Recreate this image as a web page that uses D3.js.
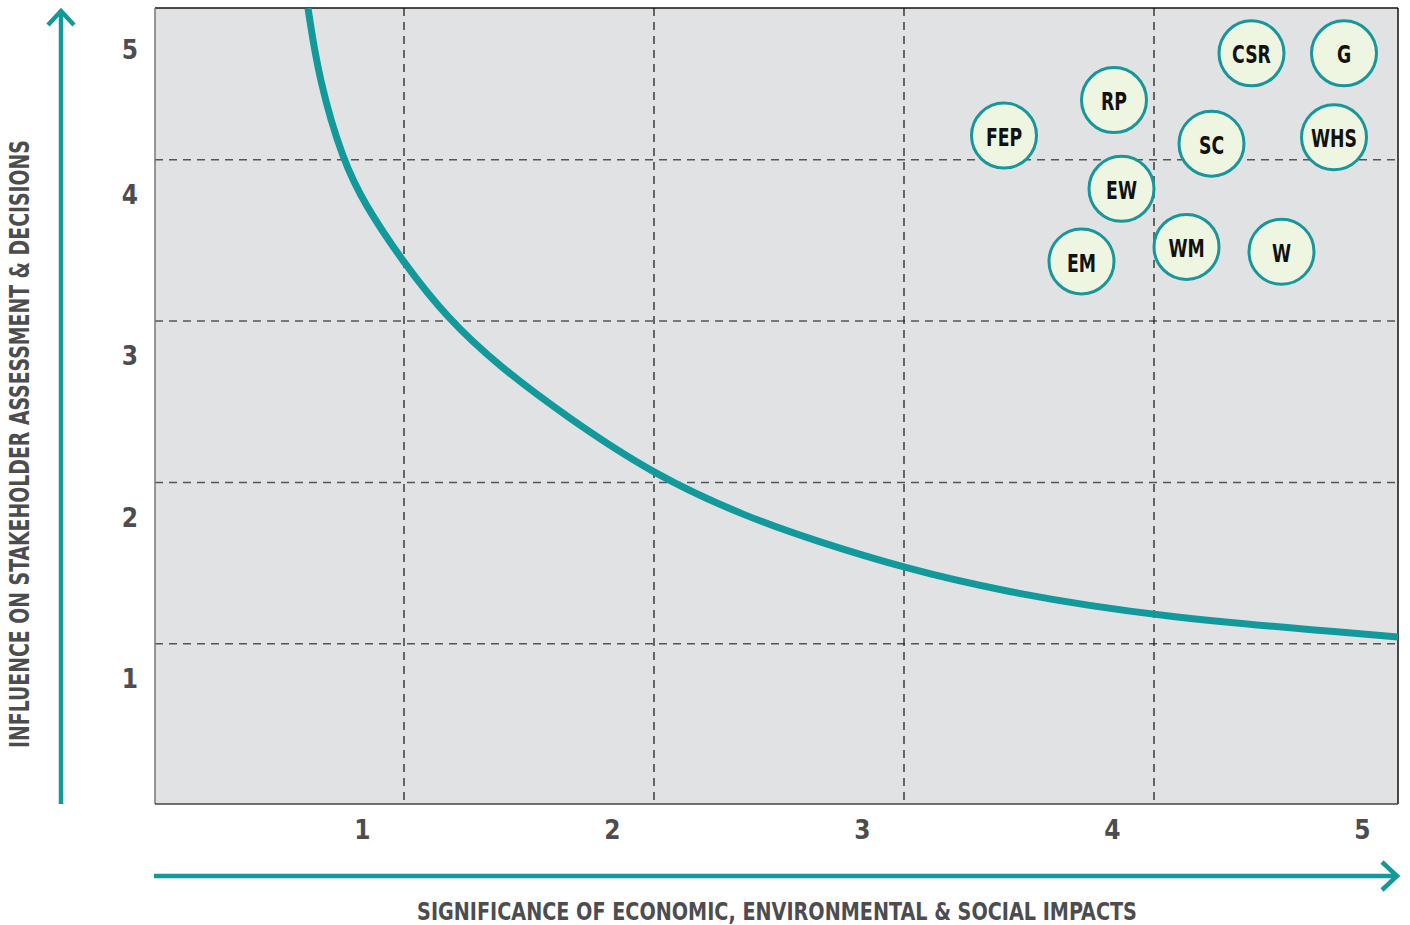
<!DOCTYPE html>
<html>
<head>
<meta charset="utf-8">
<script src="https://cdn.jsdelivr.net/npm/d3@7"></script>
<style>
  body { margin: 0; background: #fff; }
  svg text { font-family: "Liberation Sans Narrow", "DejaVu Sans Condensed", "Roboto", sans-serif; font-weight: bold; }
</style>
</head>
<body>
<div id="chart"></div>
<script>
// materiality matrix values
var xTicks = [1, 2, 3, 4, 5];
var yTicks = [1, 2, 3, 4, 5];
var gridX = [1, 2, 3, 4];
var gridY = [1, 2, 3, 4];

var topicLabels = ["CSR", "G", "RP", "FEP", "SC", "WHS", "EW", "WM", "W", "EM"];
var topicSignificance = [4.39, 4.76, 3.84, 3.40, 4.23, 4.72, 3.87, 4.13, 4.51, 3.71];
var topicInfluence = [4.66, 4.66, 4.37, 4.15, 4.10, 4.14, 3.82, 3.46, 3.43, 3.37];

// threshold curve
var curveX = [0.616, 0.66, 0.756, 0.844, 0.996, 1.172, 1.384, 1.652, 2.0, 2.372, 2.636, 3.0, 3.384, 4.0, 4.976];
var curveY = [4.94, 4.495, 3.993, 3.72, 3.366, 3.019, 2.715, 2.405, 2.046, 1.785, 1.643, 1.469, 1.327, 1.166, 1.042];

var xTitle = "SIGNIFICANCE OF ECONOMIC, ENVIRONMENTAL & SOCIAL IMPACTS";
var yTitle = "INFLUENCE ON STAKEHOLDER ASSESSMENT & DECISIONS";

var W = 1410, H = 925;
var plot = {left: 155, top: 8, right: 1398, bottom: 804};
var teal = "#12999b";

var x = d3.scaleLinear().domain([0, 5]).range([154, 1404]);
var y = d3.scaleLinear().domain([0, 5]).range([805, -1.5]);

var svg = d3.select("#chart").append("svg")
    .attr("width", W)
    .attr("height", H);

svg.append("defs").append("clipPath").attr("id", "plotclip")
  .append("rect")
    .attr("x", plot.left).attr("y", plot.top)
    .attr("width", plot.right - plot.left).attr("height", plot.bottom - plot.top);

svg.append("rect")
    .attr("x", plot.left).attr("y", plot.top)
    .attr("width", plot.right - plot.left).attr("height", plot.bottom - plot.top)
    .attr("fill", "#e1e2e4");

// dashed grid
svg.append("g").selectAll("line")
    .data(gridY)
  .enter().append("line")
    .attr("x1", plot.left).attr("x2", plot.right)
    .attr("y1", function(d) { return y(d); })
    .attr("y2", function(d) { return y(d); })
    .attr("stroke", "#555")
    .attr("stroke-width", 1.5)
    .attr("stroke-dasharray", "8,6");

svg.append("g").selectAll("line")
    .data(gridX)
  .enter().append("line")
    .attr("y1", plot.top).attr("y2", plot.bottom)
    .attr("x1", function(d) { return x(d); })
    .attr("x2", function(d) { return x(d); })
    .attr("stroke", "#222")
    .attr("stroke-width", 1.3)
    .attr("stroke-dasharray", "8,6");

// border
svg.append("line").attr("x1", plot.left).attr("x2", plot.right).attr("y1", plot.top).attr("y2", plot.top)
    .attr("stroke", "#111").attr("stroke-width", 1.5);
svg.append("line").attr("x1", plot.right).attr("x2", plot.right).attr("y1", plot.top).attr("y2", plot.bottom)
    .attr("stroke", "#111").attr("stroke-width", 1.5);
svg.append("line").attr("x1", plot.left).attr("x2", plot.left).attr("y1", plot.top).attr("y2", plot.bottom)
    .attr("stroke", "#777").attr("stroke-width", 1.5);
svg.append("line").attr("x1", plot.left).attr("x2", plot.right).attr("y1", plot.bottom).attr("y2", plot.bottom)
    .attr("stroke", "#444").attr("stroke-width", 1.5);

// threshold curve
var line = d3.line()
    .x(function(d) { return x(d[0]); })
    .y(function(d) { return y(d[1]); })
    .curve(d3.curveBasis);

svg.append("path")
    .datum(d3.zip(curveX, curveY))
    .attr("clip-path", "url(#plotclip)")
    .attr("d", line)
    .attr("fill", "none")
    .attr("stroke", teal)
    .attr("stroke-width", 7);

// bubbles
var topics = topicLabels.map(function(l, i) {
  return {label: l, sx: topicSignificance[i], iy: topicInfluence[i]};
});

var bubble = svg.selectAll(".bubble")
    .data(topics)
  .enter().append("g")
    .attr("class", "bubble")
    .attr("transform", function(d) { return "translate(" + x(d.sx) + "," + y(d.iy) + ")"; });

bubble.append("circle")
    .attr("r", 32.5)
    .attr("fill", "#eef5e0")
    .attr("stroke", "#17979a")
    .attr("stroke-width", 3);

bubble.append("text")
    .attr("text-anchor", "middle")
    .attr("transform", "scale(0.8,1)")
    .attr("dy", "0.42em")
    .attr("font-size", 24)
    .attr("fill", "#111")
    .text(function(d) { return d.label; });

// tick labels (offset from grid lines as in the source)
var xAxis = svg.append("g")
    .attr("transform", "translate(0,830)")
    .call(d3.axisBottom(x).tickValues(xTicks).tickSize(0).tickFormat(d3.format("d")));
xAxis.attr("font-family", null).attr("font-size", null);
xAxis.select(".domain").remove();
xAxis.selectAll("text")
    .attr("x", -42)
    .attr("y", 0)
    .attr("dy", "0.36em")
    .attr("font-size", 26)
    .attr("fill", "#4d4d4f");

var yAxis = svg.append("g")
    .attr("transform", "translate(130,0)")
    .call(d3.axisLeft(y).tickValues(yTicks).tickSize(0).tickFormat(d3.format("d")));
yAxis.attr("font-family", null).attr("font-size", null);
yAxis.select(".domain").remove();
yAxis.selectAll(".tick")
    .attr("transform", function(d) { return "translate(0," + Math.max(y(d) + 35, 50) + ")"; });
yAxis.selectAll("text")
    .attr("x", 0)
    .attr("dy", "0.36em")
    .attr("text-anchor", "middle")
    .attr("font-size", 26)
    .attr("fill", "#4d4d4f");

// axis arrows
svg.append("line").attr("x1", 61).attr("x2", 61).attr("y1", 804).attr("y2", 12)
    .attr("stroke", teal).attr("stroke-width", 4.5);
svg.append("path").attr("d", "M48,25L61,11L74,25")
    .attr("fill", "none").attr("stroke", teal).attr("stroke-width", 4.5);

svg.append("line").attr("x1", 154).attr("x2", 1396).attr("y1", 876).attr("y2", 876)
    .attr("stroke", teal).attr("stroke-width", 4.5);
svg.append("path").attr("d", "M1382,862L1397,876L1382,890")
    .attr("fill", "none").attr("stroke", teal).attr("stroke-width", 4.5);

// axis titles, squeezed horizontally to the reference width
function squeeze(sel, target) {
  var len = sel.node().getComputedTextLength();
  return Math.min(1, target / len);
}

var xt = svg.append("g").attr("transform", "translate(777,911)");
var xtText = xt.append("text")
    .attr("dy", "0.36em")
    .attr("text-anchor", "middle")
    .attr("font-size", 25)
    .attr("fill", "#4d4d4f")
    .text(xTitle);
xtText.attr("transform", "scale(" + squeeze(xtText, 720) + ",1)");

var yt = svg.append("g").attr("transform", "translate(20,444) rotate(-90)");
var ytText = yt.append("text")
    .attr("dy", "0.36em")
    .attr("text-anchor", "middle")
    .attr("font-size", 26)
    .attr("fill", "#4d4d4f")
    .text(yTitle);
ytText.attr("transform", "scale(" + squeeze(ytText, 608) + ",1)");
</script>
</body>
</html>
